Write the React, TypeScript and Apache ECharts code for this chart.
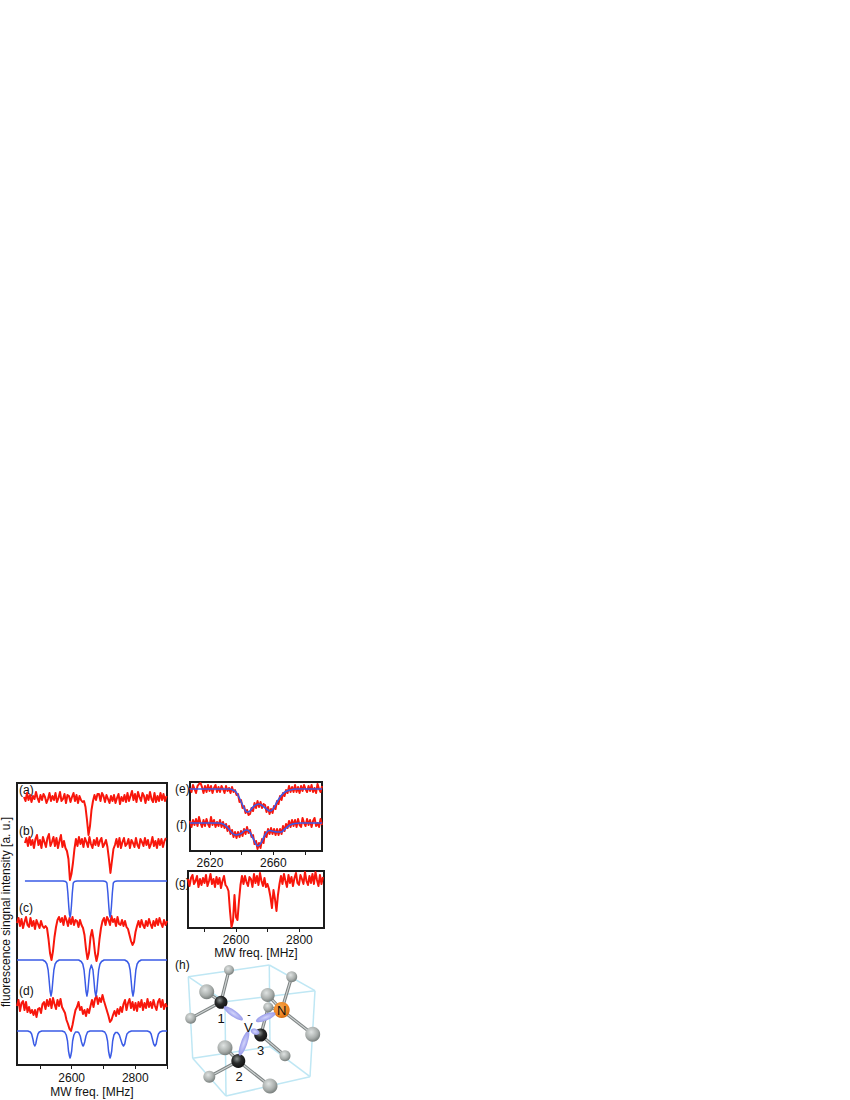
import React, { useEffect, useRef } from "react";
import * as echarts from "echarts";

const FONT = '"Liberation Sans", Arimo, Helvetica, sans-serif';
const RED = "#f8170c";
const BLUE = "#3a5be6";
const INK = "#1c1c1c";

const traceA = [
  1,-3,5,-2,3,-4,2,-1,6,0,
  -4,3,-2,4,1,-5,-1,5,-3,2,
  -2,5,-4,0,6,-3,-1,4,-5,3,
  2,-4,1,5,-3,3,-5,2,-2,-4,
  -3,-9,-22,-37,-28,-12,-3,3,-2,4,
  4,-3,5,2,-4,3,-1,-5,2,-3,
  3,-5,0,4,-6,1,-3,3,-4,5,
  -3,2,7,-2,4,-4,6,1,-3,5,
  2,-5,3,-2,6,-1,-4,5,-4,2,
  -3,5,-2,4,-3,2,
];
const traceB = [
  0,5,-3,6,-2,3,-5,4,8,-2,
  3,-5,6,1,-4,5,9,-3,1,6,
  -3,5,-5,2,8,-4,2,-5,-8,-16,
  -37,-31,-20,-6,4,-3,6,-1,4,-4,
  5,1,-4,6,-1,-5,3,-2,5,-3,
  2,5,-4,-1,3,-4,-16,-30,-18,-6,
  -2,4,-4,5,-5,1,5,-3,-1,4,
  -5,3,0,-4,5,-2,-5,4,1,-3,
  5,-2,3,-5,-1,6,-3,2,-5,4,
  -2,4,-4,2,5,
];
const traceC = [
  0,5,-3,4,-5,1,6,-2,-4,5,
  -3,2,-6,3,-1,-5,2,-3,-5,-3,
  -5,-16,-30,-37,-28,-14,-4,3,6,1,
  5,-2,7,3,-3,5,-1,6,-2,3,
  2,-4,3,-2,-5,-12,-26,-36,-30,-14,
  -7,-16,-30,-38,-31,-16,-5,2,5,-2,
  6,3,-2,7,1,4,-3,6,-1,-2,
  3,-3,2,-4,-6,-12,-18,-22,-19,-9,
  -3,2,-4,3,-2,-5,2,-3,4,-1,
  -5,2,-3,4,-2,5,0,-4,3,-2,2,
];
const traceD = [
  -1,5,-6,2,4,-5,3,-7,-2,-8,
  -5,-10,-5,-12,-4,-3,-8,1,3,-4,
  5,-1,6,-3,7,1,-4,5,-1,6,
  -2,-5,-8,-15,-19,-24,-26,-20,-12,-5,
  -2,3,-5,-2,-9,-5,-11,-4,-8,-1,
  5,-2,6,9,1,7,3,10,4,-1,
  -6,-11,-17,-15,-10,-6,-11,-4,-9,-2,
  -7,1,5,-5,2,6,-3,3,-5,2,
  -6,3,-2,5,-5,2,-3,6,-2,3,
  -3,5,-1,-5,3,6,-2,5,-4,1,-2,
];
const traceE = [
  1,-3,4,0,-4,3,5,6,2,-4,
  3,-3,4,-2,3,-4,1,4,-3,2,
  -3,3,0,-4,3,-2,1,-4,2,-3,
  -1,-6,-5,-13,-11,-19,-17,-24,-21,-26,
  -25,-19,-22,-14,-19,-12,-18,-13,-19,-15,
  -16,-23,-18,-25,-20,-24,-17,-20,-12,-15,
  -7,-11,-4,-7,-1,-4,3,-3,2,-3,
  4,-3,2,-4,3,-2,4,0,-3,3,
  -2,4,-3,1,-4,5,0,-3,3,
];
const traceF = [
  2,-4,3,-2,4,-3,6,0,-4,3,
  -3,4,-1,-4,6,-2,3,-4,1,-3,
  3,-4,1,-5,-1,-8,-3,-11,-7,-14,
  -9,-15,-9,-14,-8,-13,-6,-11,-4,-10,
  -7,-14,-12,-21,-18,-26,-20,-25,-16,-20,
  -9,-14,-6,-11,-5,-11,-6,-12,-6,-12,
  -6,-11,-3,-8,-1,-5,2,-4,3,-3,
  3,-4,4,-2,-4,5,0,-3,4,-2,
  3,-4,2,5,-3,0,-4,4,-2,
];
const traceG = [
  2,-5,3,6,-3,0,5,-6,2,-4,
  3,-2,6,-5,0,7,-3,2,-6,4,
  -3,3,-7,0,5,-4,-6,-10,-30,-46,
  -40,-14,-36,-39,-20,-4,5,-3,5,-1,
  -5,4,2,-6,7,-2,5,-4,8,0,
  -5,3,-6,-3,-8,-16,-27,-9,-18,-30,
  -14,-3,5,-3,7,0,-6,6,-2,4,
  -5,3,8,-2,-4,6,2,-3,9,0,
  -4,5,-2,7,-3,9,1,-5,6,-3,
  4,
];

const fitB = [
  [2453,0],[2573,0],[2581,-0.5],[2585,-2],[2588,-12],[2591,-26],[2593,-33],[2595,-36],[2597,-33],[2599,-26],[2602,-12],[2605,-2],[2609,-0.5],[2617,0],
  [2699,0],[2707,-0.5],[2711,-2],[2714,-12],[2717,-26],[2719,-33],[2721,-36],[2723,-33],[2725,-26],[2728,-12],[2731,-2],[2735,-0.5],[2743,0],[2900,0],
];
const fitC = [
  [2428,0],[2509,0],[2517,-1.5],[2522,-4],[2526,-10],[2529,-20],[2532,-31],[2535,-36],[2538,-31],[2541,-20],[2544,-10],[2548,-4],[2553,-1.5],[2561,0],
  [2622,0],[2630,-1.5],[2635,-4],[2639,-10],[2642,-20],[2645,-31],[2648,-36],[2651,-31],[2654,-20],[2657,-10],[2662,-5],[2667,-10],[2670,-20],[2673,-31],[2676,-36],[2679,-31],[2682,-20],[2685,-10],[2689,-4],[2694,-1.5],[2702,0],
  [2767,0],[2775,-1.5],[2780,-4],[2784,-10],[2787,-20],[2790,-31],[2793,-36],[2796,-31],[2799,-20],[2802,-10],[2806,-4],[2811,-1.5],[2819,0],[2900,0],
];
const fitD = [
  [2428,0],[2462,0],[2470,-1],[2474,-3],[2478,-8],[2481,-13],[2484,-15],[2487,-13],[2490,-8],[2494,-3],[2498,-1],[2506,0],
  [2570,0],[2578,-1],[2583,-4],[2587,-10],[2590,-20],[2593,-25],[2595,-27],[2597,-25],[2600,-20],[2603,-10],[2607,-4],[2612,-1],[2618,-1],[2622,-1.5],[2627,-5],[2631,-11],[2634,-14],[2636,-15],[2638,-14],[2641,-11],[2645,-5],[2650,-1],[2658,0],
  [2696,0],[2704,-1],[2709,-4],[2713,-10],[2716,-20],[2719,-25],[2721,-27],[2723,-25],[2726,-20],[2729,-10],[2733,-4],[2738,-1.5],[2744,-1.5],[2750,-4],[2755,-9],[2759,-13],[2763,-15],[2767,-13],[2770,-8],[2774,-3],[2780,-1],[2788,0],
  [2838,0],[2846,-1],[2850,-3],[2854,-8],[2858,-13],[2862,-15],[2866,-13],[2869,-8],[2873,-3],[2878,-1],[2886,0],[2900,0],
];
const fitE = [
  [2607.4,0],[2632.6,0],[2634.5,-1],[2636.4,-3],[2638.9,-10],[2641.5,-19],[2643.3,-23],[2645.2,-22],[2647.8,-17],[2650.9,-15],[2654.1,-18],[2656.6,-21],[2657.9,-22],[2659.8,-20],[2662.3,-13],[2664.8,-7],[2667.3,-3],[2670.5,-1],[2674.3,0],[2690.7,0],
];
const fitF = [
  [2607.4,0],[2625,0],[2628.2,-1],[2631.4,-5],[2633.9,-10],[2636.4,-12],[2639.6,-10.5],[2642.7,-7],[2644.6,-8],[2647.1,-15],[2649,-21],[2650.3,-23],[2652.2,-20],[2654.7,-12],[2657.2,-7.5],[2659.1,-8],[2662.3,-9],[2664.8,-9],[2667.3,-6],[2670.5,-2],[2673.6,-0.5],[2676.8,0],[2690.7,0],
];

const ticksLeft = [2500, 2600, 2700, 2800, 2900];
const labelsLeft = [2600, 2800];
const ticksTop = [2620, 2640, 2660, 2680];
const labelsTop = [2620, 2660];
const ticksBottom = [2500, 2600, 2700, 2800];
const labelsBottom = [2600, 2800];

const panelLabels: [string, number, number][] = [
  ["(a)", 19, 790], ["(b)", 19, 831], ["(c)", 19, 908], ["(d)", 19, 991],
  ["(e)", 175, 789], ["(f)", 176, 825], ["(g)", 175, 883], ["(h)", 175, 965],
];

// Lattice-cell diagram (h), page coordinates
const boxEdges: number[][] = [
  [188.3,976.7,269.3,965],[269.3,965,315,990.7],[315,990.7,225,1001.7],[225,1001.7,188.3,976.7],
  [188.3,976.7,192.7,1058.3],[192.7,1058.3,226,1096],[226,1096,310,1076.7],[310,1076.7,315,990.7],
  [225,1001.7,226,1096],[269.3,965,270,1046.7],[270,1046.7,192.7,1058.3],[270,1046.7,310,1076.7],
];
const bonds: number[][] = [
  [221,1002,229,970],[221,1002,206.7,991.7],[221,1002,190.7,1018.3],
  [281.7,1010,291.7,976.7],[281.7,1010,267.7,995],[281.7,1010,312.7,1034.3],[281.7,1010,268.3,1007.3],
  [260.7,1035,285,1055.7],[260.7,1035,268.3,1007.3],
  [238.3,1061,225,1047.7],[238.3,1061,209.3,1076.7],[238.3,1061,270,1086],
];
const grayAtoms: number[][] = [
  [229,970,5],[206.7,991.7,7.5],[190.7,1018.3,5.5],[291.7,976.7,5.5],[268.3,1007.3,5],[267.7,995,7],
  [312.7,1034.3,7.5],[285,1055.7,5.5],[225,1047.7,7.5],[209.3,1076.7,6],[270,1086,7.5],
];
const darkAtoms: number[][] = [[221,1002.3,6.5],[238.3,1061,7],[260.7,1035,6.5]];
const lobes: number[][] = [
  [233.3,1013.3,11.5,3.2,-35],[265.7,1017.3,10.5,3.2,22],[244,1043.3,13,3.2,70],[255,1031.7,4.5,3,-20],
];
const atomLabels: [string, number, number, number][] = [
  ["1", 221, 1018, 13], ["2", 239, 1076, 13], ["3", 260.7, 1050, 13], ["N", 281.7, 1010, 13], ["V", 248.3, 1027, 13], ["-", 249, 1014.5, 10],
];

const STEP_LEFT = 4.72;
const STEP_TOP = 0.947;
const STEP_BOTTOM = 4.73;

function noisy(values: number[], start: number, step: number, base: number) {
  return values.map((v, i) => [start + i * step, base + v]);
}
function fit(points: number[][], base: number) {
  return points.map(([f, v]) => [f, base + v]);
}

function line(name: string, data: number[][], color: string, idx: number, width: number, smooth: boolean | number = false) {
  return {
    name, type: "line", data, xAxisIndex: idx, yAxisIndex: idx, showSymbol: false, symbol: "none",
    smooth, lineStyle: { color, width, join: "round" }, silent: true,
  };
}

function xAxis(gridIndex: number, min: number, max: number, ticks: number[], labels: number[], margin: number, nameGap: number | null) {
  return {
    type: "value", gridIndex, min, max, position: "bottom",
    splitLine: { show: false }, axisLine: { show: false },
    axisTick: { show: true, length: 4, inside: false, customValues: ticks, lineStyle: { color: INK, width: 1 } },
    axisLabel: { show: true, customValues: labels, color: "#111", fontFamily: FONT, fontSize: 12, margin, formatter: (v: number) => String(v) },
    ...(nameGap != null
      ? { name: "MW freq. [MHz]", nameLocation: "middle", nameGap, nameTextStyle: { color: "#111", fontFamily: FONT, fontSize: 12 } }
      : {}),
  };
}
function yAxis(gridIndex: number, max: number) {
  return { type: "value", gridIndex, min: 0, max, show: false };
}

function buildGraphic() {
  const els: any[] = [];
  const text = (t: string, x: number, y: number, extra: any = {}) => ({
    type: "text", x, y,
    style: { text: t, fill: "#111", fontFamily: FONT, fontSize: 12, textVerticalAlign: "middle", ...extra },
  });
  panelLabels.forEach(([t, x, y]) => els.push(text(t, x, y)));
  els.push({
    type: "text", x: 6, y: 912, rotation: Math.PI / 2,
    style: { text: "fluorescence singnal intensity [a. u.]", fill: "#111", fontFamily: FONT, fontSize: 12, textAlign: "center", textVerticalAlign: "middle" },
  });
  boxEdges.forEach(([x1, y1, x2, y2]) =>
    els.push({ type: "line", shape: { x1, y1, x2, y2 }, style: { stroke: "#bfe7f4", lineWidth: 1.5 } }));
  bonds.forEach(([x1, y1, x2, y2]) => {
    els.push({ type: "line", shape: { x1, y1, x2, y2 }, style: { stroke: "#7d8383", lineWidth: 3.2 } });
    els.push({ type: "line", shape: { x1, y1, x2, y2 }, style: { stroke: "#cfd3d3", lineWidth: 1.1 } });
  });
  grayAtoms.forEach(([cx, cy, r]) => els.push({
    type: "circle", shape: { cx, cy, r },
    style: { fill: new echarts.graphic.RadialGradient(0.4, 0.35, 0.7, [
      { offset: 0, color: "#dfe3e2" }, { offset: 0.6, color: "#a9aeac" }, { offset: 1, color: "#6f7674" },
    ]) },
  }));
  darkAtoms.forEach(([cx, cy, r]) => els.push({
    type: "circle", shape: { cx, cy, r },
    style: { fill: new echarts.graphic.RadialGradient(0.4, 0.35, 0.7, [
      { offset: 0, color: "#8a9190" }, { offset: 0.45, color: "#2a2c2c" }, { offset: 1, color: "#0c0c0c" },
    ]) },
  }));
  els.push({
    type: "circle", shape: { cx: 281.7, cy: 1010, r: 8 },
    style: { fill: new echarts.graphic.RadialGradient(0.4, 0.35, 0.7, [
      { offset: 0, color: "#f6a84e" }, { offset: 0.7, color: "#ee8420" }, { offset: 1, color: "#c96510" },
    ]) },
  });
  lobes.forEach(([x, y, rx, ry, deg]) => els.push({
    type: "ellipse", x, y, rotation: (deg * Math.PI) / 180, shape: { cx: 0, cy: 0, rx, ry },
    style: { fill: new echarts.graphic.RadialGradient(0.5, 0.5, 0.6, [
      { offset: 0, color: "#d3d5fb" }, { offset: 1, color: "#8e91e8" },
    ]) },
  }));
  atomLabels.forEach(([t, x, y, size]) => els.push(text(t, x, y, { textAlign: "center", fontSize: size })));
  return els;
}

export default function App() {
  const ref = useRef<HTMLDivElement>(null);
  useEffect(() => {
    const chart = echarts.init(ref.current!, undefined, { renderer: "svg" });
    const frame = { show: true, borderColor: INK, borderWidth: 2, backgroundColor: "transparent" };
    chart.setOption({
      animation: false,
      backgroundColor: "#ffffff",
      grid: [
        { left: 17, top: 783, width: 150, height: 282, ...frame },
        { left: 190, top: 782, width: 132, height: 69, ...frame },
        { left: 188, top: 871, width: 136, height: 57, ...frame },
      ],
      xAxis: [
        xAxis(0, 2428, 2900, ticksLeft, labelsLeft, 7, 21),
        xAxis(1, 2607.4, 2690.7, ticksTop, labelsTop, 6, null),
        xAxis(2, 2448.6, 2877.6, ticksBottom, labelsBottom, 6, 15),
      ],
      yAxis: [yAxis(0, 282), yAxis(1, 69), yAxis(2, 57)],
      series: [
        line("a", noisy(traceA, 2450, STEP_LEFT, 267), RED, 0, 2),
        line("b", noisy(traceB, 2453, STEP_LEFT, 222), RED, 0, 2),
        line("c", noisy(traceC, 2428, STEP_LEFT, 142), RED, 0, 2),
        line("d", noisy(traceD, 2428, STEP_LEFT, 60), RED, 0, 2),
        line("b fit", fit(fitB, 184), BLUE, 0, 1.5),
        line("c fit", fit(fitC, 105), BLUE, 0, 1.5),
        line("d fit", fit(fitD, 34), BLUE, 0, 1.5),
        line("e", noisy(traceE, 2607.4, STEP_TOP, 62), RED, 1, 2),
        line("f", noisy(traceF, 2607.4, STEP_TOP, 28), RED, 1, 2),
        line("e fit", fit(fitE, 62), BLUE, 1, 1.6, 0.4),
        line("f fit", fit(fitF, 28), BLUE, 1, 1.6, 0.4),
        line("g", noisy(traceG, 2448.6, STEP_BOTTOM, 47), RED, 2, 2),
      ],
      graphic: { elements: buildGraphic() },
    });
    return () => chart.dispose();
  }, []);
  return <div ref={ref} style={{ position: "absolute", left: 0, top: 0, width: 850, height: 1100 }} />;
}
